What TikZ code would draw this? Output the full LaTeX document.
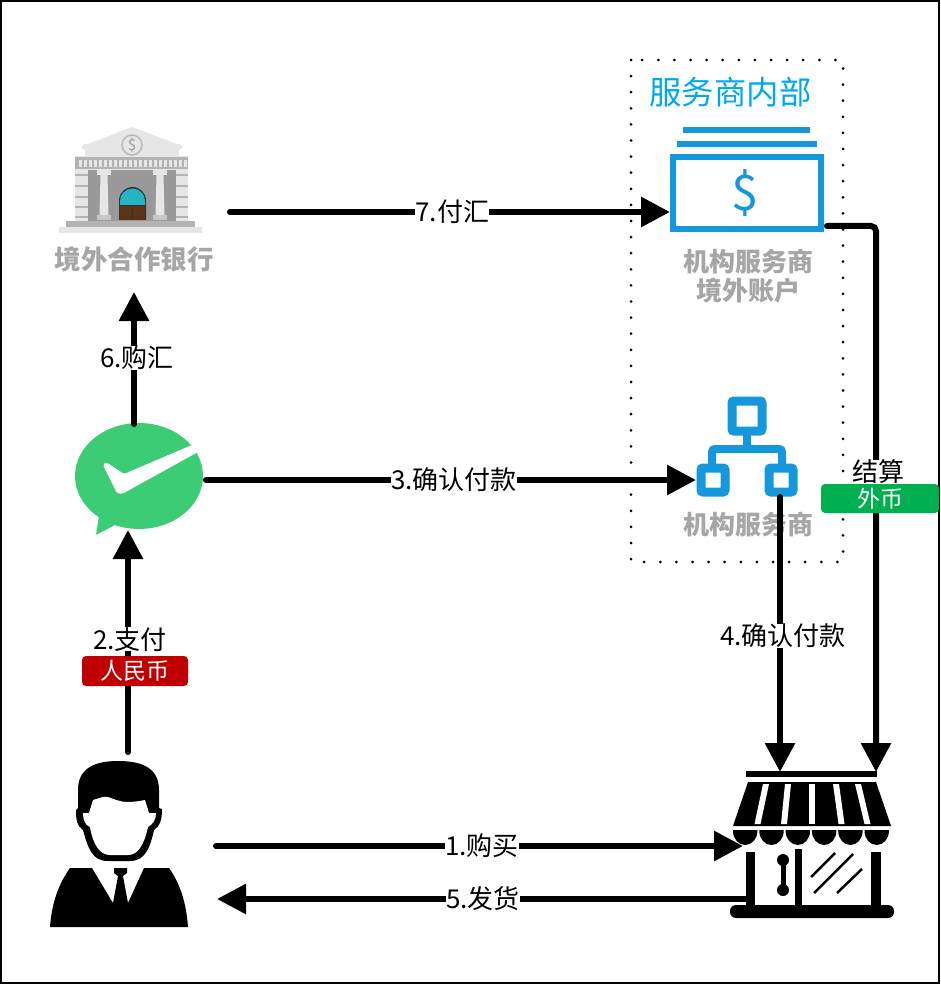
\documentclass[tikz,border=0pt]{standalone}
\usepackage{fontspec}
\setmainfont{Noto Sans CJK SC}
\usetikzlibrary{arrows.meta}
\definecolor{iconblue}{HTML}{1597DB}
\definecolor{titleblue}{HTML}{00A9EE}
\definecolor{paygreen}{HTML}{3CCC75}
\definecolor{tagred}{HTML}{C00000}
\definecolor{taggreen}{HTML}{00B050}
\definecolor{namegray}{HTML}{A6A6A6}
\definecolor{banklight}{HTML}{E6E6E6}
\definecolor{bankmid}{HTML}{B3B3B3}
\definecolor{bankdark}{HTML}{999999}
\definecolor{doorteal}{HTML}{26B5C3}
\definecolor{doorbrown}{HTML}{5C3317}
\tikzset{
	flowline/.style={line width=6pt, line cap=round, -{Triangle[length=29pt, width=29pt]}},
	flowlabel/.style={fill=white, inner sep=0pt, font=\fontsize{26}{28}\selectfont},
	namelabel/.style={text=namegray, inner sep=0pt, align=center, font=\fontsize{26}{29}\selectfont\bfseries},
	tagbox/.style={text=white, rounded corners=4pt, inner sep=0pt, font=\fontsize{23}{25}\selectfont},
}
\begin{document}
\begin{tikzpicture}[x=1pt, y=-1pt]
	\useasboundingbox (0, 0) rectangle (940, 984);
	\fill[white] (0, 0) rectangle (940, 984);
	\draw[line width=2pt] (1, 1) rectangle (939, 983);

	% inner frame
	\draw[line width=3pt, line cap=round, dash pattern=on 0pt off 16.1pt] (631, 60) rectangle (843, 562);
	\node (inner) [text=titleblue, inner sep=0pt, font=\fontsize{32.4}{34}\selectfont] at (730.5, 92) {服务商内部};

	% bank
	\fill[banklight] (59, 227) rectangle (202, 233);
	\fill[bankmid] (66, 221) rectangle (195, 227);
	\fill[banklight] (75, 156) rectangle (188, 221);
	\foreach \y in {175,186,197,207,217} {
		\fill[bankmid] (75, \y-1) rectangle (88, \y+1);
		\fill[bankmid] (176, \y-1) rectangle (188, \y+1);
	}
	\fill[bankdark] (88, 170) rectangle (176, 221);
	\fill[bankmid] (75, 157) rectangle (188, 169);
	\foreach \x in {79,84,...,184}
	\fill[banklight] (\x, 160) rectangle (\x+3, 167);
	\fill[banklight] (85, 150) rectangle (179, 156);
	\fill[banklight] (83, 146) -- (132, 127) -- (182, 146) -- cycle;
	\fill[banklight, rounded corners=3pt] (82, 144) rectangle (182, 150);
	\foreach \x in {104,160} {
		\fill[banklight] (\x-7, 170) rectangle (\x+7, 175);
		\fill[banklight] (\x-3.5, 175) -- (\x+3.5, 175) -- (\x+4.5, 215) -- (\x-4.5, 215) -- cycle;
		\fill[bankmid!60!banklight] (\x-7, 215) rectangle (\x+7, 220);
	}
	\fill[black!80] (119, 220) -- (119, 200.5) arc[start angle=180, end angle=360, radius=13.5] -- (146, 220) -- cycle;
	\fill[doorteal] (120, 201) arc[start angle=180, end angle=360, radius=12.5] -- (145, 205) -- (120, 205) -- cycle;
	\fill[doorbrown] (120, 206) rectangle (132, 220);
	\fill[doorbrown] (133, 206) rectangle (145, 220);
	\filldraw[fill=banklight, draw=bankdark!70, line width=1.5pt] (132, 145) circle[radius=10];
	\node (bankcoin) [text=bankdark, inner sep=0pt, font=\fontsize{15}{15}\selectfont] at (132, 145) {\$};
	\node (bank) [namelabel, font=\fontsize{26.5}{29}\selectfont\bfseries] at (134, 259) {境外合作银行};

	% account
	\fill[iconblue] (683, 127) rectangle (810, 133);
	\fill[iconblue] (677, 141) rectangle (817, 147);
	\draw[iconblue, line width=6.5pt] (673, 157) rectangle (821, 229);
	\node (dollar) [text=iconblue, inner sep=0pt, font=\fontsize{49}{49}\selectfont] at (745, 193) {\$};
	\node (account) [namelabel] at (748, 276.5) {机构服务商\\境外账户};

	% provider
	\draw[iconblue, line width=9pt, rounded corners=2pt] (732, 401) rectangle (762, 431);
	\draw[iconblue, line width=9pt, rounded corners=2pt] (701, 468) rectangle (725, 492);
	\draw[iconblue, line width=9pt, rounded corners=2pt] (769, 468) rectangle (793, 492);
	\draw[iconblue, line width=8pt] (747, 431) -- (747, 449);
	\draw[iconblue, line width=8pt, rounded corners=3pt] (712, 465) -- (712, 449) -- (782, 449) -- (782, 465);
	\node (provider) [namelabel] at (748, 525) {机构服务商};

	% wechat pay
	\fill[paygreen] (139, 476) ellipse[x radius=64, y radius=53];
	\fill[paygreen, rounded corners=1pt] (99, 516) -- (96, 535) -- (115, 525) -- cycle;
	\fill[white, rounded corners=1.5pt] (103, 465) -- (106, 462) -- (124, 474) -- (192, 445) -- (198, 452) -- (122, 494) -- (117, 493) -- cycle;

	% customer
	\fill (118, 761) .. controls (95, 761) and (78, 768) .. (78, 790) -- (78, 808) -- (76, 810)
		.. controls (76, 820) and (77, 826) .. (83, 830) .. controls (88, 848) and (92, 861) .. (108, 861)
		-- (130, 861) .. controls (145, 861) and (150, 848) .. (154, 830)
		.. controls (160, 826) and (162, 820) .. (162, 809) -- (159, 808) -- (159, 790)
		.. controls (159, 768) and (142, 761) .. (118, 761) -- cycle;
	\fill[white] (89, 813) -- (93, 800) .. controls (100, 798) and (104, 796) .. (108, 797)
		.. controls (114, 799) and (120, 802) .. (127, 802) .. controls (134, 802) and (140, 801) .. (145, 800)
		-- (149, 813) -- (156, 813) .. controls (156, 820) and (153, 824) .. (148, 827)
		.. controls (144, 845) and (138, 855) .. (128, 855) -- (110, 855)
		.. controls (100, 855) and (93, 845) .. (90, 827) .. controls (85, 825) and (83, 820) .. (83, 813) -- cycle;
	\fill (50, 927) .. controls (52, 900) and (60, 882) .. (70, 868) -- (92, 868) -- (113, 903) -- (118, 876) -- (114, 873)
		-- (114, 868) -- (127, 868) -- (127, 873) -- (123, 876) -- (128, 903) -- (144, 868) -- (169, 868)
		.. controls (179, 882) and (186, 900) .. (188, 927) -- cycle;

	% shop
	\fill (746, 771) rectangle (877, 777);
	\fill (748, 782) -- (876, 782) -- (891, 826) -- (733, 826) -- cycle;
	\foreach \xa/\xb in {766/757.5,788/784,811.5/811.5,836/841.5,858/867.5} {
		\fill[white] (\xa-3, 784) -- (\xa+3, 784) -- (\xb+3, 824) -- (\xb-3, 824) -- cycle;
	}
	\foreach \i in {0,...,5} {
		\fill (733+26.3*\i, 830) -- (733+26.3*\i, 831) arc[start angle=180, end angle=360, x radius=12.2, y radius=-14] -- (757.4+26.3*\i, 830) -- cycle;
	}
	\fill (746, 852) rectangle (755, 906);
	\fill (795, 849) rectangle (802, 906);
	\fill (871, 852) rectangle (881, 906);
	\fill[rounded corners=6pt] (730, 905) rectangle (894, 918);
	\fill (783, 860) circle[radius=6];
	\fill (783, 890) circle[radius=6];
	\fill (780.5, 860) rectangle (785.5, 890);
	\draw[line width=2.5pt] (811, 877) -- (835, 853);
	\draw[line width=2.5pt] (814, 893) -- (853, 854);
	\draw[line width=2.5pt] (837, 893) -- (862, 869);

	% connector ends
	\coordinate (bankOut) at (230, 212);
	\coordinate (accountIn) at (670, 212);
	\coordinate (accountOut) at (827, 226);
	\coordinate (settleTurn) at (876, 226);
	\coordinate (shopSettle) at (876, 772);
	\coordinate (payUp) at (134, 424);
	\coordinate (bankIn) at (134, 292);
	\coordinate (payOut) at (206, 480);
	\coordinate (providerIn) at (696, 480);
	\coordinate (customerUp) at (128, 752);
	\coordinate (payIn) at (128, 530);
	\coordinate (providerOut) at (780, 497);
	\coordinate (shopConfirm) at (780, 772);
	\coordinate (customerOut) at (216, 846);
	\coordinate (shopIn) at (743, 846);
	\coordinate (shopOut) at (746, 899);
	\coordinate (customerIn) at (217, 899);

	\draw[flowline] (bankOut) -- (accountIn) node[flowlabel, pos=0.505] (remit) {7.付汇};
	\draw[flowline, rounded corners=5pt] (accountOut) -- (settleTurn) -- (shopSettle);
	\draw[flowline] (payUp) -- (bankIn) node[flowlabel, midway, xshift=3pt] (buyfx) {6.购汇};
	\draw[flowline] (payOut) -- (providerIn) node[flowlabel, pos=0.506] (confirmA) {3.确认付款};
	\draw[flowline] (customerUp) -- (payIn) node[flowlabel, pos=0.507, xshift=2pt] (paid) {2.支付};
	\draw[flowline] (providerOut) -- (shopConfirm) node[flowlabel, pos=0.505, xshift=3pt] (confirmB) {4.确认付款};
	\draw[flowline] (customerOut) -- (shopIn) node[flowlabel, pos=0.505] (bought) {1.购买};
	\draw[flowline] (shopOut) -- (customerIn) node[flowlabel, pos=0.497] (shipped) {5.发货};

	\node (settle) [flowlabel] at (878, 472) {结算};
	\node (cny) [tagbox, fill=tagred, minimum width=106pt, minimum height=30pt] at (135, 671) {人民币};
	\node (fx) [tagbox, fill=taggreen, minimum width=118pt, minimum height=29pt] at (880, 498.5) {外币};
\end{tikzpicture}
\end{document}
